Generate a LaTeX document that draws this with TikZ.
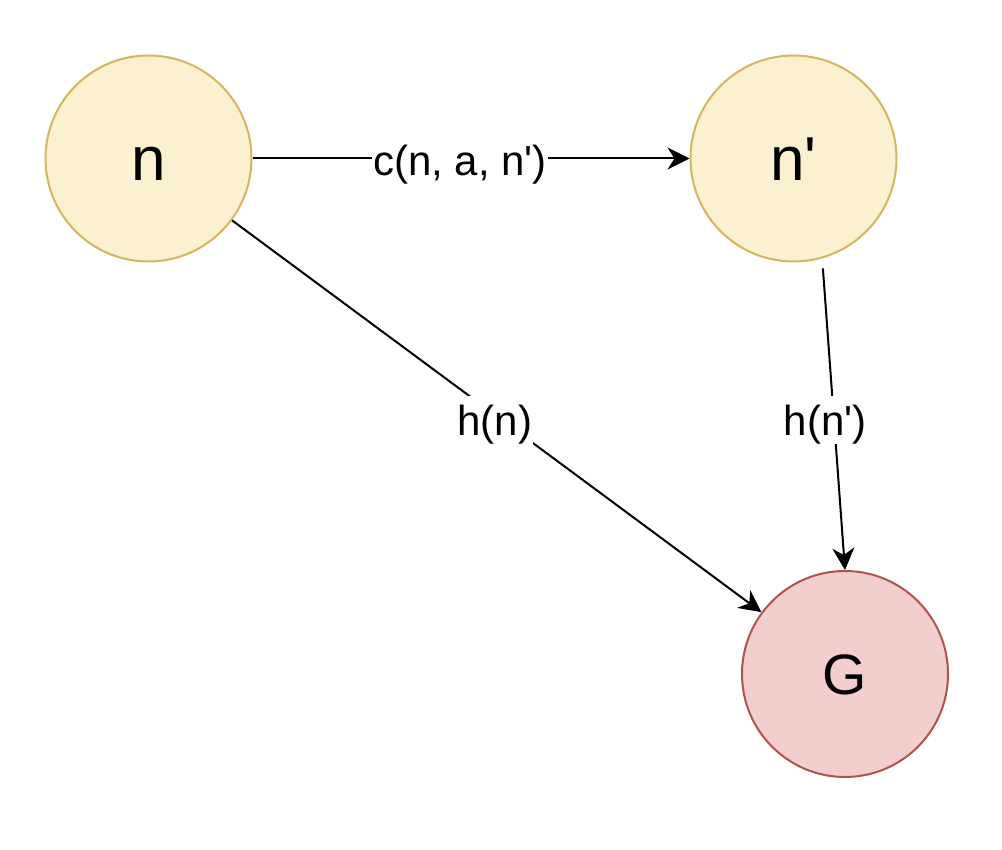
\documentclass[tikz,border=0pt]{standalone}
\usepackage{fontspec}
\setmainfont{Liberation Sans}
\usetikzlibrary{arrows.meta}
\definecolor{yfill}{HTML}{FBF0D0}
\definecolor{ydraw}{HTML}{D3B65F}
\definecolor{rfill}{HTML}{F2CFCD}
\definecolor{rdraw}{HTML}{B0534F}
\tikzset{
  state/.style={circle, minimum size=206pt, inner sep=0pt, line width=2pt},
  ystate/.style={state, fill=yfill, draw=ydraw, font=\fontsize{62}{70}\selectfont,
    text height=56pt, text depth=12pt},
  rstate/.style={state, fill=rfill, draw=rdraw, font=\fontsize{57}{65}\selectfont,
    text height=51pt, text depth=11pt},
  conn/.style={line width=2pt, -{Stealth[length=22pt, width=22pt, inset=7pt]}},
  lbl/.style={fill=white, inner sep=1pt, font=\fontsize{42}{48}\selectfont,
    text height=38pt, text depth=8pt}
}
\begin{document}
\begin{tikzpicture}[x=1pt, y=-1pt]
\useasboundingbox (0,0) rectangle (1002,850);
\node[ystate] (n) at (148.5,158.5) {n};
\node[ystate] (np) at (793.5,158.5) {n\textquotesingle};
\node[rstate] (G) at (845,674) {G};
\draw[conn] (n) -- node[lbl, xshift=-11pt, yshift=-2pt] {c(n, a, n\textquotesingle)} (np);
\draw[conn] (n) -- node[lbl, xshift=-2pt, yshift=-4pt] {h(n)} (G);
\draw[conn, shorten <=10pt] (np.-74) -- node[lbl, xshift=-8.5pt, yshift=-6pt] {h(n\textquotesingle)} (G.90);
\end{tikzpicture}
\end{document}
